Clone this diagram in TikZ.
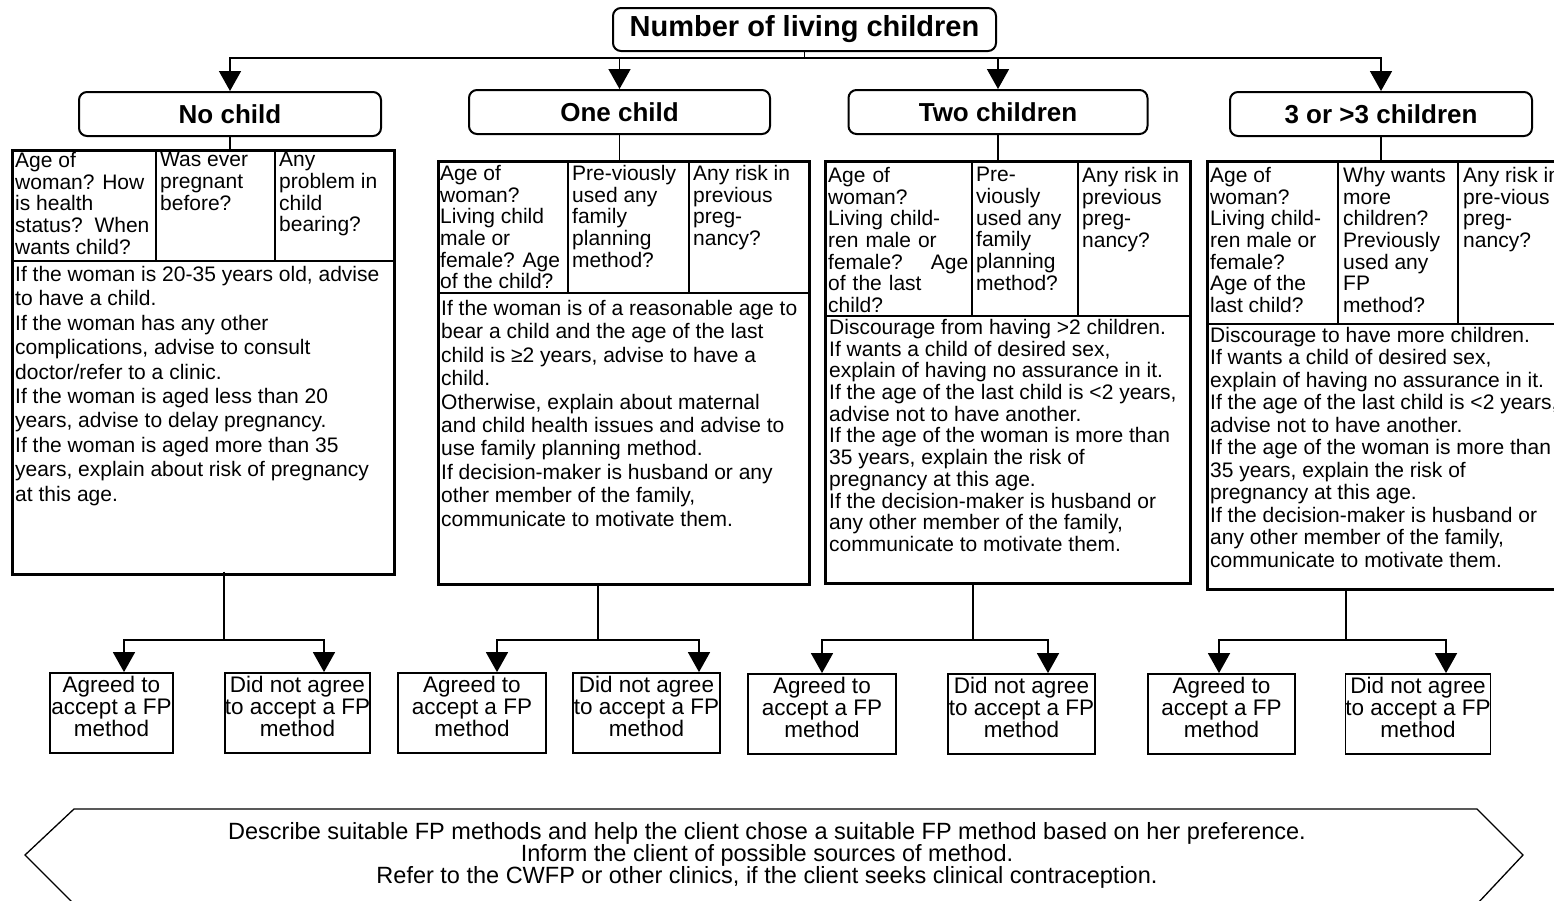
\documentclass[tikz,border=0pt]{standalone}
\usepackage{fontspec}
\setmainfont{Liberation Sans}
\usetikzlibrary{arrows.meta}

\begin{document}
\begin{tikzpicture}[
    x=1pt, y=-1pt,
    heading/.style={draw, line width=2pt, rounded corners=8pt, minimum height=44pt, font=\fontsize{26}{30}\selectfont\bfseries},
    tbl/.style={draw, line width=2.5pt, anchor=north west, inner sep=0pt},
    cell/.style={anchor=north west, inner sep=0pt, align=left, font=\fontsize{21}{21.7}\selectfont},
    answer/.style={draw, line width=1.8pt, minimum height=80pt, align=center, inner sep=0pt, text depth=13pt, font=\fontsize{22.5}{22.3}\selectfont},
    wire/.style={line width=1.6pt},
    arrow/.style={wire, -{Triangle[width=22pt,length=20pt]}}
]
\useasboundingbox (0,0) rectangle (1554,900);
% Top level
\node[heading, minimum width=383pt, minimum height=43pt, font=\fontsize{29}{33}\selectfont\bfseries] (title) at (804.5,29.5) {Number of living children};
\node[heading, minimum width=302pt] (nochild) at (230,114) {No child};
\node[heading, minimum width=301pt] (onechild) at (619.5,112) {One child};
\node[heading, minimum width=299pt] (twochild) at (998,112) {Two children};
\node[heading, minimum width=302pt] (morechild) at (1381,114) {3 or >3 children};
\coordinate (bus) at (804.5,58);
\draw[wire] (title.south) -- (bus);
\draw[arrow] (bus) -| (nochild.north);
\draw[arrow] (bus) -| (onechild.north);
\draw[arrow] (bus) -| (twochild.north);
\draw[arrow] (bus) -| (morechild.north);
% Table: no child
\node[tbl, minimum width=382pt, minimum height=424pt] (tab1) at (11,149) {};
\draw[line width=2.5pt] (11,261) -- (393,261) (156,149) -- (156,261) (275,149) -- (275,261);
\draw[wire] (nochild.south) -- (nochild.south |- tab1.north);
\node[cell] (q11) at (15,152) {Age of\\woman? How\\is health\\status?\ \ When\\wants child?};
\node[cell] (q12) at (160,152) {Was ever\\pregnant\\before?};
\node[cell] (q13) at (279,152) {Any\\problem in\\child\\bearing?};
\node[cell, font=\fontsize{21}{24.4}\selectfont] (b1) at (15,266) {If the woman is 20-35 years old, advise\\to have a child.\\If the woman has any other\\complications, advise to consult\\doctor/refer to a clinic.\\If the woman is aged less than 20\\years, advise to delay pregnancy.\\If the woman is aged more than 35\\years, explain about risk of pregnancy\\at this age.};
% Table: one child
\node[tbl, minimum width=371pt, minimum height=423pt] (tab2) at (437,160) {};
\draw[line width=2.5pt] (437,293) -- (808,293) (568,160) -- (568,293) (689,160) -- (689,293);
\draw[wire] (onechild.south) -- (onechild.south |- tab2.north);
\node[cell] (q21) at (440,165) {Age of\\woman?\\Living child\\male or\\female? Age\\of the child?};
\node[cell] (q22) at (572,165) {Pre-viously\\used any\\family\\planning\\method?};
\node[cell] (q23) at (693,165) {Any risk in\\previous\\preg-\\nancy?};
\node[cell, font=\fontsize{21}{23.4}\selectfont] (b2) at (441,300) {If the woman is of a reasonable age to\\bear a child and the age of the last\\child is ≥2 years, advise to have a\\child.\\Otherwise, explain about maternal\\and child health issues and advise to\\use family planning method.\\If decision-maker is husband or any\\other member of the family,\\communicate to motivate them.};
% Table: two children
\node[tbl, minimum width=365pt, minimum height=422pt] (tab3) at (824,160) {};
\draw[line width=2.5pt] (824,316) -- (1189,316) (972,160) -- (972,316) (1078,160) -- (1078,316);
\draw[wire] (twochild.south) -- (twochild.south |- tab3.north);
\node[cell, text width=140pt] (q31) at (828,167) {Age of\\woman?\\Living child-\\ren male or\\female?\hfill Age\\of the last\\child?};
\node[cell] (q32) at (976,167) {Pre-\\viously\\used any\\family\\planning\\method?};
\node[cell] (q33) at (1082,167) {Any risk in\\previous\\preg-\\nancy?};
\node[cell] (b3) at (829,319) {Discourage from having >2 children.\\If wants a child of desired sex,\\explain of having no assurance in it.\\If the age of the last child is <2 years,\\advise not to have another.\\If the age of the woman is more than\\35 years, explain the risk of\\pregnancy at this age.\\If the decision-maker is husband or\\any other member of the family,\\communicate to motivate them.};
% Table: 3 or more children
\node[tbl, minimum width=380pt, minimum height=428pt] (tab4) at (1206,160) {};
\draw[line width=2.5pt] (1206,324) -- (1586,324) (1338,160) -- (1338,324) (1458,160) -- (1458,324);
\draw[wire] (morechild.south) -- (morechild.south |- tab4.north);
\node[cell] (q41) at (1210,167) {Age of\\woman?\\Living child-\\ren male or\\female?\\Age of the\\last child?};
\node[cell] (q42) at (1343,167) {Why wants\\more\\children?\\Previously\\used any\\FP\\method?};
\node[cell] (q43) at (1463,167) {Any risk in\\pre-vious\\preg-\\nancy?};
\node[cell, font=\fontsize{21}{22.5}\selectfont] (b4) at (1210,327) {Discourage to have more children.\\If wants a child of desired sex,\\explain of having no assurance in it.\\If the age of the last child is <2 years,\\advise not to have another.\\If the age of the woman is more than\\35 years, explain the risk of\\pregnancy at this age.\\If the decision-maker is husband or\\any other member of the family,\\communicate to motivate them.};
% Outcomes
\node[answer, minimum width=123pt] (agr1) at (111.5,713) {Agreed to\\accept a FP\\method};
\node[answer, minimum width=145pt] (dis1) at (297.5,713) {Did not agree\\to accept a FP\\method};
\node[answer, minimum width=148pt] (agr2) at (472,713) {Agreed to\\accept a FP\\method};
\node[answer, minimum width=147pt] (dis2) at (646.5,713) {Did not agree\\to accept a FP\\method};
\node[answer, minimum width=148pt] (agr3) at (822,714) {Agreed to\\accept a FP\\method};
\node[answer, minimum width=147pt] (dis3) at (1021.5,714) {Did not agree\\to accept a FP\\method};
\node[answer, minimum width=147pt] (agr4) at (1221.5,714) {Agreed to\\accept a FP\\method};
\node[answer, minimum width=142pt] (dis4) at (1418,714) {Did not agree\\to accept a FP\\method};
\coordinate (j1) at (224,640);
\coordinate (j2) at (598,640);
\coordinate (j3) at (973,640);
\coordinate (j4) at (1346,640);
\draw[wire] ([yshift=4pt]tab1.south -| j1) -- (j1);
\draw[wire] (tab2.south -| j2) -- (j2);
\draw[wire] (tab3.south -| j3) -- (j3);
\draw[wire] (tab4.south -| j4) -- (j4);
\draw[arrow] (j1) -| ([xshift=12.5pt]agr1.north);
\draw[arrow] (j1) -| ([xshift=26.5pt]dis1.north);
\draw[arrow] (j2) -| ([xshift=25pt]agr2.north);
\draw[arrow] (j2) -| ([xshift=52.5pt]dis2.north);
\draw[arrow] (j3) -| (agr3.north);
\draw[arrow] (j3) -| ([xshift=26.5pt]dis3.north);
\draw[arrow] (j4) -| ([xshift=-2.5pt]agr4.north);
\draw[arrow] (j4) -| ([xshift=28pt]dis4.north);
% Advice banner
\draw[line width=1.3pt] (74,809) -- (1477,809) -- (1523,855) -- (1477,904) -- (74,904) -- (25,855) -- cycle;
\node[align=center, inner sep=0pt, font=\fontsize{23.5}{22}\selectfont] (advice) at (767,855) {Describe suitable FP methods and help the client chose a suitable FP method based on her preference.\\Inform the client of possible sources of method.\\Refer to the CWFP or other clinics, if the client seeks clinical contraception.};
\end{tikzpicture}
\end{document}
